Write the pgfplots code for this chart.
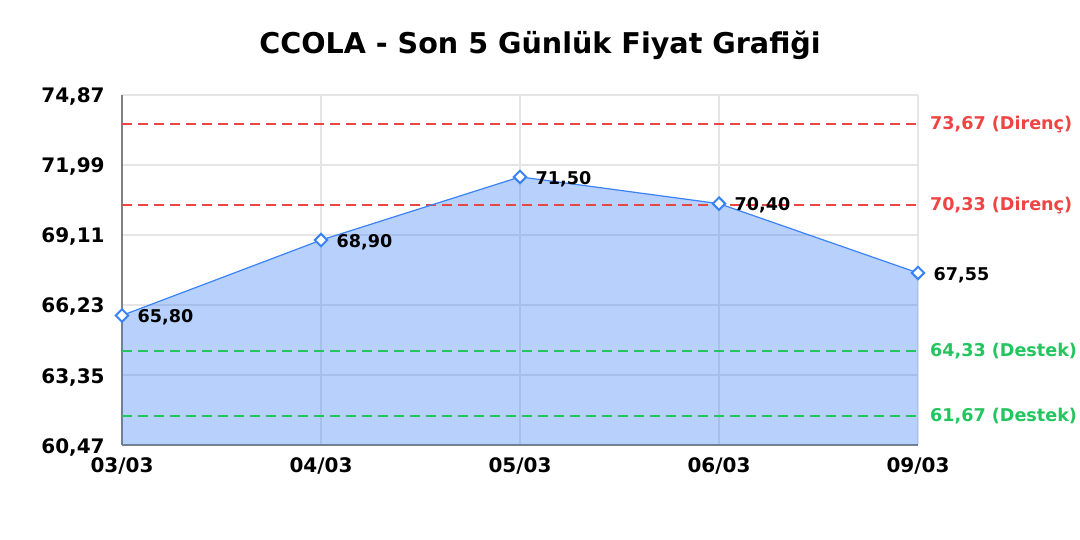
\documentclass[border=0pt]{standalone}
\usepackage{fontspec}
\setmainfont{DejaVu Sans}
\usepackage{pgfplots}
\pgfplotsset{compat=1.18}
\definecolor{lineblue}{RGB}{59,130,246}
\definecolor{resred}{RGB}{239,68,68}
\definecolor{supgreen}{RGB}{34,197,94}
\definecolor{gridgray}{RGB}{229,229,229}
\begin{document}
\begin{tikzpicture}
\useasboundingbox (-61pt,-47.5pt) rectangle (479pt,222.5pt);
\begin{axis}[
	scale only axis,
	width=398pt, height=175pt,
	xmin=0, xmax=4,
	ymin=60.47, ymax=74.87,
	clip=false,
	axis x line*=bottom, axis y line*=left,
	axis line style={-, draw=gray, line width=0.9pt},
	xtick={0,1,2,3,4},
	xticklabels={03/03,04/03,05/03,06/03,09/03},
	ytick={60.47,63.35,66.23,69.11,71.99,74.87},
	major tick length=0pt,
	grid=major,
	major grid style={draw=gridgray, line width=0.6pt},
	/pgf/number format/.cd, use comma, fixed, fixed zerofill, precision=2, assume math mode=true,
	/pgfplots/.cd,
	tick label style={font=\fontsize{10}{12}\selectfont\bfseries},
	yticklabel style={anchor=east, inner sep=0pt, xshift=-8.5pt, yshift=-1pt},
	xticklabel style={anchor=north, inner sep=0pt, yshift=-6pt},
	refline/.style={draw=#1, solid, dash pattern=on 5pt off 3pt, line width=0.9pt, mark=none},
]
\addplot[draw=none, fill=lineblue, fill opacity=0.37] coordinates {
	(0,65.80) (1,68.90) (2,71.50) (3,70.40) (4,67.55)} \closedcycle;

\addplot[refline=supgreen] coordinates {(0,64.33) (4,64.33)};
\addplot[refline=supgreen] coordinates {(0,61.67) (4,61.67)};
\addplot[refline=resred] coordinates {(0,73.67) (4,73.67)};
\addplot[refline=resred] coordinates {(0,70.33) (4,70.33)};

\addplot[lineblue, line width=0.6pt, mark=square*, mark size=2.2pt,
	mark options={fill=white, draw=lineblue, line width=1pt, solid, rotate=45},
	nodes near coords,
	every node near coord/.append style={anchor=west, xshift=4pt, yshift=-1pt,
		font=\fontsize{8.8}{10}\selectfont\bfseries, text=black},
] coordinates {
	(0,65.80) (1,68.90) (2,71.50) (3,70.40) (4,67.55)};

\node[anchor=west, text=resred, font=\fontsize{8.8}{10}\selectfont\bfseries] at (axis cs:4,73.67) [xshift=2.5pt] {73,67 (Direnç)};
\node[anchor=west, text=resred, font=\fontsize{8.8}{10}\selectfont\bfseries] at (axis cs:4,70.33) [xshift=2.5pt] {70,33 (Direnç)};
\node[anchor=west, text=supgreen, font=\fontsize{8.8}{10}\selectfont\bfseries] at (axis cs:4,64.33) [xshift=2.5pt] {64,33 (Destek)};
\node[anchor=west, text=supgreen, font=\fontsize{8.8}{10}\selectfont\bfseries] at (axis cs:4,61.67) [xshift=2.5pt] {61,67 (Destek)};
\end{axis}
\node[font=\fontsize{14.3}{17}\selectfont\bfseries] at (209pt,200pt) {CCOLA - Son 5 Günlük Fiyat Grafiği};
\end{tikzpicture}
\end{document}
